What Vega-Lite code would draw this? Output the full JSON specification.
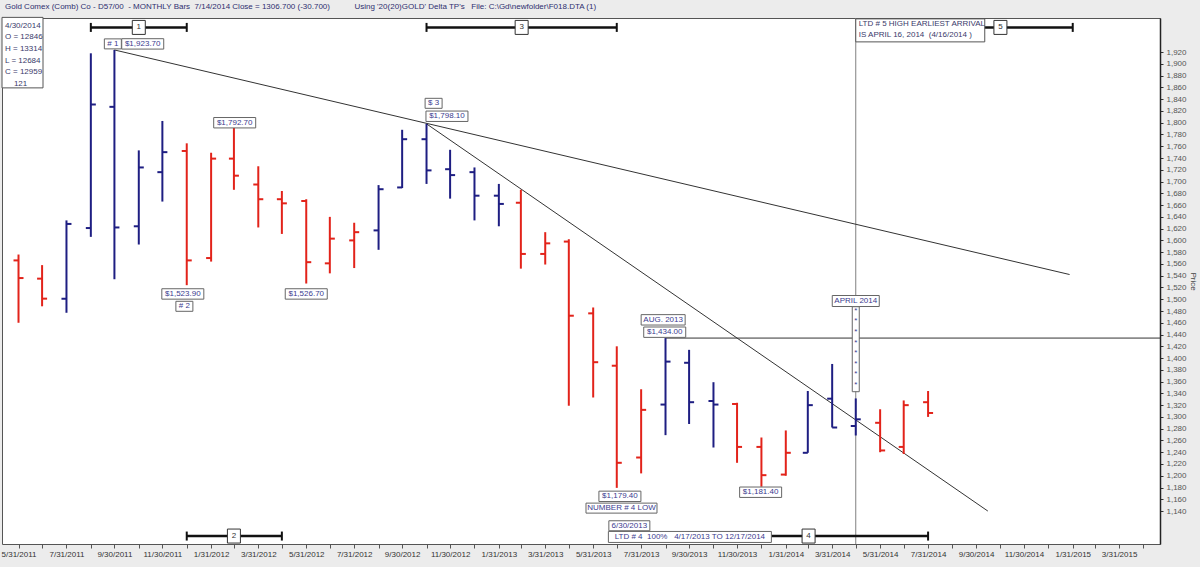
{
  "$schema": "https://vega.github.io/schema/vega-lite/v6.json",
  "width": 1158,
  "height": 526,
  "autosize": {"type": "none"},
  "padding": {"left": 2, "top": 18, "right": 40, "bottom": 23},
  "background": "#ececec",
  "title": {
    "text": "Gold Comex (Comb) Co - D57/00\u00a0\u00a0- MONTHLY Bars\u00a0\u00a07/14/2014 Close = 1306.700 (-30.700)\u00a0\u00a0\u00a0\u00a0\u00a0\u00a0\u00a0\u00a0\u00a0\u00a0\u00a0Using '20(20)GOLD' Delta TP's\u00a0\u00a0\u00a0File: C:\\Gd\\newfolder\\F018.DTA (1)",
    "anchor": "start",
    "frame": "group",
    "fontSize": 8,
    "fontWeight": "normal",
    "color": "#2f2f6f",
    "offset": 6,
    "dx": 3,
    "dy": 10,
    "baseline": "bottom"
  },
  "config": {
    "font": "Liberation Sans",
    "view": {"fill": "white", "stroke": "#555", "strokeWidth": 1},
    "legend": {"disable": true},
    "axis": {"labelOverlap": false}
  },
  "datasets": {
    "bars": [
      {"date":"2011-05-31","open":1566,"high":1576,"low":1460,"close":1536,"trend":"down"},
      {"date":"2011-06-30","open":1535,"high":1558,"low":1488,"close":1501,"trend":"down"},
      {"date":"2011-07-31","open":1501,"high":1634,"low":1477,"close":1628,"trend":"up"},
      {"date":"2011-08-31","open":1621,"high":1918,"low":1606,"close":1831,"trend":"up"},
      {"date":"2011-09-30","open":1827,"high":1923.7,"low":1534,"close":1622,"trend":"up"},
      {"date":"2011-10-31","open":1624,"high":1753,"low":1593,"close":1724,"trend":"up"},
      {"date":"2011-11-30","open":1716,"high":1803,"low":1666,"close":1750,"trend":"up"},
      {"date":"2011-12-31","open":1752,"high":1765,"low":1523.9,"close":1566,"trend":"down"},
      {"date":"2012-01-31","open":1570,"high":1749,"low":1564,"close":1739,"trend":"down"},
      {"date":"2012-02-29","open":1739,"high":1792.7,"low":1686,"close":1710,"trend":"down"},
      {"date":"2012-03-31","open":1695,"high":1726,"low":1622,"close":1670,"trend":"down"},
      {"date":"2012-04-30","open":1670,"high":1684,"low":1611,"close":1663,"trend":"down"},
      {"date":"2012-05-31","open":1667,"high":1670,"low":1526.7,"close":1563,"trend":"down"},
      {"date":"2012-06-30","open":1561,"high":1640,"low":1544,"close":1603,"trend":"down"},
      {"date":"2012-07-31","open":1600,"high":1630,"low":1553,"close":1614,"trend":"down"},
      {"date":"2012-08-31","open":1617,"high":1694,"low":1584,"close":1687,"trend":"up"},
      {"date":"2012-09-30","open":1690,"high":1788,"low":1689,"close":1772,"trend":"up"},
      {"date":"2012-10-31","open":1772,"high":1798.1,"low":1696,"close":1719,"trend":"up"},
      {"date":"2012-11-30","open":1721,"high":1754,"low":1671,"close":1711,"trend":"up"},
      {"date":"2012-12-31","open":1716,"high":1724,"low":1634,"close":1676,"trend":"up"},
      {"date":"2013-01-31","open":1676,"high":1696,"low":1624,"close":1662,"trend":"up"},
      {"date":"2013-02-28","open":1664,"high":1686,"low":1552,"close":1577,"trend":"down"},
      {"date":"2013-03-31","open":1577,"high":1614,"low":1559,"close":1595,"trend":"down"},
      {"date":"2013-04-30","open":1598,"high":1602,"low":1319,"close":1472,"trend":"down"},
      {"date":"2013-05-31","open":1476,"high":1486,"low":1333,"close":1393,"trend":"down"},
      {"date":"2013-06-30","open":1387,"high":1420,"low":1179.4,"close":1222,"trend":"down"},
      {"date":"2013-07-31","open":1231,"high":1347,"low":1204,"close":1312,"trend":"down"},
      {"date":"2013-08-31","open":1321,"high":1434,"low":1269,"close":1394,"trend":"up"},
      {"date":"2013-09-30","open":1392,"high":1414,"low":1288,"close":1325,"trend":"up"},
      {"date":"2013-10-31","open":1327,"high":1359,"low":1248,"close":1321,"trend":"up"},
      {"date":"2013-11-30","open":1322,"high":1324,"low":1222,"close":1249,"trend":"down"},
      {"date":"2013-12-31","open":1249,"high":1265,"low":1181.4,"close":1201,"trend":"down"},
      {"date":"2014-01-31","open":1202,"high":1277,"low":1200,"close":1239,"trend":"down"},
      {"date":"2014-02-28","open":1239,"high":1344,"low":1239,"close":1320,"trend":"up"},
      {"date":"2014-03-31","open":1331,"high":1390,"low":1282,"close":1282,"trend":"up"},
      {"date":"2014-04-30","open":1284.6,"high":1331.4,"low":1268.4,"close":1295.9,"trend":"up"},
      {"date":"2014-05-31","open":1290,"high":1313,"low":1240,"close":1243,"trend":"down"},
      {"date":"2014-06-30","open":1249,"high":1328,"low":1237,"close":1320,"trend":"down"},
      {"date":"2014-07-31","open":1325,"high":1344,"low":1300,"close":1306.7,"trend":"down"}
    ],
    "vline": [{"date":"2014-04-30"}],
    "trends": [
      {"x1":"2011-09-30","p1":1923.7,"x2":"2015-01-27","p2":1542},
      {"x1":"2012-10-31","p1":1798.1,"x2":"2014-10-15","p2":1140},
      {"x1":"2013-08-31","p1":1434,"x2":"2015-05-22","p2":1434}
    ],
    "ranges": [
      {"start":"2011-08-31","end":"2011-12-31","mid":"2011-10-31","price":1962,"label":"1"},
      {"start":"2012-10-31","end":"2013-06-30","mid":"2013-03-01","price":1962,"label":"3"},
      {"start":"2014-07-31","end":"2015-01-31","mid":"2014-10-31","price":1962,"label":"5"},
      {"start":"2011-12-31","end":"2012-04-30","mid":"2012-02-29","price":1097.5,"label":"2"},
      {"start":"2013-09-30","end":"2014-07-31","mid":"2014-03-01","price":1097.5,"label":"4"}
    ],
    "notes": [
      {"date":"2011-09-28","price":1934,"label":"# 1","box":"tag"},
      {"date":"2011-11-05","price":1934,"label":"$1,923.70","box":"price"},
      {"date":"2012-03-01","price":1800,"label":"$1,792.70","box":"price"},
      {"date":"2011-12-26","price":1509,"label":"$1,523.90","box":"price"},
      {"date":"2011-12-28","price":1488,"label":"# 2","box":"tag"},
      {"date":"2012-05-31","price":1509,"label":"$1,526.70","box":"price"},
      {"date":"2012-11-09","price":1833,"label":"$ 3","box":"tag"},
      {"date":"2012-11-26","price":1811,"label":"$1,798.10","box":"price"},
      {"date":"2013-08-28","price":1465,"label":"AUG. 2013","box":"aug"},
      {"date":"2013-08-30","price":1444,"label":"$1,434.00","box":"price"},
      {"date":"2013-07-04","price":1165,"label":"$1,179.40","box":"price"},
      {"date":"2013-07-06","price":1145,"label":"NUMBER # 4 LOW","box":"low"},
      {"date":"2013-12-30","price":1172,"label":"$1,181.40","box":"price"},
      {"date":"2013-07-16","price":1115,"label":"6/30/2013","box":"date"},
      {"date":"2013-10-01","price":1096,"label":"LTD # 4\u00a0 100%\u00a0\u00a0 4/17/2013 TO 12/17/2014","box":"ltd4"},
      {"date":"2014-04-30","price":1497,"label":"APRIL 2014","box":"april"},
      {"date":"2014-04-30","price":1480.5,"label":"*\n*\n*\n*\n*\n*\n*\n*","box":"dots"}
    ],
    "blocks": [
      {"date":"2011-05-10","price":1964.6,"label":"4/30/2014\nO = 12846\nH = 13314\nL = 12684\nC = 12959\n\u200b\u00a0\u00a0\u00a0\u00a0121","box":"info"},
      {"date":"2014-04-30","price":1968,"label":"LTD # 5 HIGH EARLIEST ARRIVAL\nIS APRIL 16, 2014\u00a0 (4/16/2014 )","box":"ltd5"}
    ]
  },
  "layer": [
    {
      "data": {"name": "vline"},
      "mark": {"type": "rule", "color": "#808080", "strokeWidth": 1},
      "encoding": {
        "x": {"field": "date", "type": "temporal", "scale": {"type": "utc"}}
      }
    },
    {
      "data": {"name": "trends"},
      "mark": {"type": "rule", "color": "#333", "strokeWidth": 1},
      "encoding": {
        "x": {"field": "x1", "type": "temporal", "scale": {"type": "utc"}},
        "x2": {"field": "x2"},
        "y": {"field": "p1", "type": "quantitative"},
        "y2": {"field": "p2"}
      }
    },
    {
      "data": {"name": "bars"},
      "mark": {"type": "rule", "strokeWidth": 2},
      "encoding": {
        "x": {
          "field": "date", "type": "temporal",
          "scale": {"type": "utc", "domain": [{"year":2011,"month":5,"date":10,"utc":true},{"year":2015,"month":5,"date":22,"utc":true}]},
          "axis": {
            "title": null,
            "orient": "bottom",
            "tickCount": 200,
            "values": [
              {"year":2011,"month":5,"date":31,"utc":true},{"year":2011,"month":6,"date":30,"utc":true},{"year":2011,"month":7,"date":31,"utc":true},{"year":2011,"month":8,"date":31,"utc":true},
              {"year":2011,"month":9,"date":30,"utc":true},{"year":2011,"month":10,"date":31,"utc":true},{"year":2011,"month":11,"date":30,"utc":true},{"year":2011,"month":12,"date":31,"utc":true},
              {"year":2012,"month":1,"date":31,"utc":true},{"year":2012,"month":2,"date":29,"utc":true},{"year":2012,"month":3,"date":31,"utc":true},{"year":2012,"month":4,"date":30,"utc":true},
              {"year":2012,"month":5,"date":31,"utc":true},{"year":2012,"month":6,"date":30,"utc":true},{"year":2012,"month":7,"date":31,"utc":true},{"year":2012,"month":8,"date":31,"utc":true},
              {"year":2012,"month":9,"date":30,"utc":true},{"year":2012,"month":10,"date":31,"utc":true},{"year":2012,"month":11,"date":30,"utc":true},{"year":2012,"month":12,"date":31,"utc":true},
              {"year":2013,"month":1,"date":31,"utc":true},{"year":2013,"month":2,"date":28,"utc":true},{"year":2013,"month":3,"date":31,"utc":true},{"year":2013,"month":4,"date":30,"utc":true},
              {"year":2013,"month":5,"date":31,"utc":true},{"year":2013,"month":6,"date":30,"utc":true},{"year":2013,"month":7,"date":31,"utc":true},{"year":2013,"month":8,"date":31,"utc":true},
              {"year":2013,"month":9,"date":30,"utc":true},{"year":2013,"month":10,"date":31,"utc":true},{"year":2013,"month":11,"date":30,"utc":true},{"year":2013,"month":12,"date":31,"utc":true},
              {"year":2014,"month":1,"date":31,"utc":true},{"year":2014,"month":2,"date":28,"utc":true},{"year":2014,"month":3,"date":31,"utc":true},{"year":2014,"month":4,"date":30,"utc":true},
              {"year":2014,"month":5,"date":31,"utc":true},{"year":2014,"month":6,"date":30,"utc":true},{"year":2014,"month":7,"date":31,"utc":true},{"year":2014,"month":8,"date":31,"utc":true},
              {"year":2014,"month":9,"date":30,"utc":true},{"year":2014,"month":10,"date":31,"utc":true},{"year":2014,"month":11,"date":30,"utc":true},{"year":2014,"month":12,"date":31,"utc":true},
              {"year":2015,"month":1,"date":31,"utc":true},{"year":2015,"month":2,"date":28,"utc":true},{"year":2015,"month":3,"date":31,"utc":true},{"year":2015,"month":4,"date":30,"utc":true}
            ],
            "labelExpr": "utcmonth(datum.value) % 2 == 0 ? utcFormat(datum.value, '%-m/%-d/%Y') : ''",
            "labelOverlap": false,
            "labelFlush": false,
            "labelFontSize": 8,
            "labelColor": "#333",
            "labelPadding": 2,
            "tickSize": 4,
            "tickColor": "#555",
            "domain": false,
            "grid": false
          }
        },
        "y": {
          "field": "low", "type": "quantitative",
          "scale": {"domain": [1084, 1978], "zero": false, "nice": false},
          "axis": {
            "orient": "right",
            "title": "Price",
            "tickCount": 200,
            "values": [1140,1160,1180,1200,1220,1240,1260,1280,1300,1320,1340,1360,1380,1400,1420,1440,1460,1480,1500,1520,1540,1560,1580,1600,1620,1640,1660,1680,1700,1720,1740,1760,1780,1800,1820,1840,1860,1880,1900,1920],
            "format": ",d",
            "labelOverlap": false,
            "labelFlush": false,
            "labelFontSize": 8,
            "labelColor": "#555",
            "labelPadding": 3,
            "tickSize": 3,
            "tickColor": "#333",
            "domainColor": "#222",
            "domainWidth": 1.5,
            "grid": false,
            "titleFontSize": 8,
            "titleFontWeight": "normal",
            "titleColor": "#444",
            "titlePadding": 2
          }
        },
        "y2": {"field": "high"},
        "color": {"field": "trend", "type": "nominal", "scale": {"domain": ["down", "up"], "range": ["#e2231a", "#1e1e82"]}}
      }
    },
    {
      "data": {"name": "bars"},
      "mark": {"type": "tick", "orient": "horizontal", "size": 5, "thickness": 2, "xOffset": -2.5, "opacity": 1},
      "encoding": {
        "x": {"field": "date", "type": "temporal", "scale": {"type": "utc"}},
        "y": {"field": "open", "type": "quantitative"},
        "color": {"field": "trend", "type": "nominal"}
      }
    },
    {
      "data": {"name": "bars"},
      "mark": {"type": "tick", "orient": "horizontal", "size": 5, "thickness": 2, "xOffset": 2.5, "opacity": 1},
      "encoding": {
        "x": {"field": "date", "type": "temporal", "scale": {"type": "utc"}},
        "y": {"field": "close", "type": "quantitative"},
        "color": {"field": "trend", "type": "nominal"}
      }
    },
    {
      "data": {"name": "ranges"},
      "mark": {"type": "rule", "color": "#111", "strokeWidth": 2.5},
      "encoding": {
        "x": {"field": "start", "type": "temporal", "scale": {"type": "utc"}},
        "x2": {"field": "end"},
        "y": {"field": "price", "type": "quantitative"}
      }
    },
    {
      "data": {"name": "ranges"},
      "mark": {"type": "tick", "orient": "vertical", "size": 9, "thickness": 2, "color": "#111", "opacity": 1},
      "encoding": {
        "x": {"field": "start", "type": "temporal", "scale": {"type": "utc"}},
        "y": {"field": "price", "type": "quantitative"}
      }
    },
    {
      "data": {"name": "ranges"},
      "mark": {"type": "tick", "orient": "vertical", "size": 9, "thickness": 2, "color": "#111", "opacity": 1},
      "encoding": {
        "x": {"field": "end", "type": "temporal", "scale": {"type": "utc"}},
        "y": {"field": "price", "type": "quantitative"}
      }
    },
    {
      "data": {"name": "ranges"},
      "mark": {"type": "point", "shape": "M-6.5,-7H6.5V7H-6.5Z", "size": 4, "filled": true, "fill": "white", "stroke": "#333", "strokeWidth": 1, "opacity": 1},
      "encoding": {
        "x": {"field": "mid", "type": "temporal", "scale": {"type": "utc"}},
        "y": {"field": "price", "type": "quantitative"}
      }
    },
    {
      "data": {"name": "ranges"},
      "mark": {"type": "text", "fontSize": 8, "color": "#333", "align": "center", "baseline": "middle"},
      "encoding": {
        "x": {"field": "mid", "type": "temporal", "scale": {"type": "utc"}},
        "y": {"field": "price", "type": "quantitative"},
        "text": {"field": "label"}
      }
    },
    {
      "data": {"name": "notes"},
      "mark": {"type": "point", "size": 4, "filled": true, "fill": "white", "stroke": "#666", "strokeWidth": 1, "opacity": 1},
      "encoding": {
        "x": {"field": "date", "type": "temporal", "scale": {"type": "utc"}},
        "y": {"field": "price", "type": "quantitative"},
        "shape": {
          "field": "box", "type": "nominal",
          "scale": {
            "domain": ["tag", "price", "aug", "april", "date", "low", "ltd4", "dots", "info", "ltd5"],
            "range": ["M-8.5,-5H8.5V5H-8.5Z", "M-21,-5.2H21V5.2H-21Z", "M-22,-5.2H22V5.2H-22Z", "M-23.5,-5.5H23.5V5.5H-23.5Z", "M-20.5,-5H20.5V5H-20.5Z", "M-35.5,-5H35.5V5H-35.5Z", "M-81.5,-5.5H81.5V5.5H-81.5Z", "M-3.5,-4H3.5V81H-3.5Z", "M0,-8.5H41V62H0Z", "M0,-5H129V18H0Z"]
          }
        }
      }
    },
    {
      "data": {"name": "notes"},
      "mark": {"type": "text", "fontSize": 8, "color": "#3b3b8f", "align": "center", "baseline": "middle", "lineBreak": "\n", "lineHeight": 10.6},
      "encoding": {
        "x": {"field": "date", "type": "temporal", "scale": {"type": "utc"}},
        "y": {"field": "price", "type": "quantitative"},
        "text": {"field": "label"}
      }
    },
    {
      "data": {"name": "blocks"},
      "mark": {"type": "point", "size": 4, "filled": true, "fill": "white", "stroke": "#555", "strokeWidth": 1, "opacity": 1},
      "encoding": {
        "x": {"field": "date", "type": "temporal", "scale": {"type": "utc"}},
        "y": {"field": "price", "type": "quantitative"},
        "shape": {
          "field": "box", "type": "nominal",
          "scale": {
            "domain": ["tag", "price", "aug", "april", "date", "low", "ltd4", "dots", "info", "ltd5"],
            "range": ["M-8.5,-5H8.5V5H-8.5Z", "M-21,-5.2H21V5.2H-21Z", "M-22,-5.2H22V5.2H-22Z", "M-23.5,-5.5H23.5V5.5H-23.5Z", "M-20.5,-5H20.5V5H-20.5Z", "M-35.5,-5H35.5V5H-35.5Z", "M-81.5,-5.5H81.5V5.5H-81.5Z", "M-3.5,-4H3.5V81H-3.5Z", "M0,-8.5H41V62H0Z", "M0,-5H129V18H0Z"]
          }
        }
      }
    },
    {
      "data": {"name": "blocks"},
      "mark": {"type": "text", "fontSize": 8, "color": "#3a3a6a", "align": "left", "baseline": "middle", "dx": 3, "lineBreak": "\n", "lineHeight": 11.6},
      "encoding": {
        "x": {"field": "date", "type": "temporal", "scale": {"type": "utc"}},
        "y": {"field": "price", "type": "quantitative"},
        "text": {"field": "label"}
      }
    }
  ]
}
